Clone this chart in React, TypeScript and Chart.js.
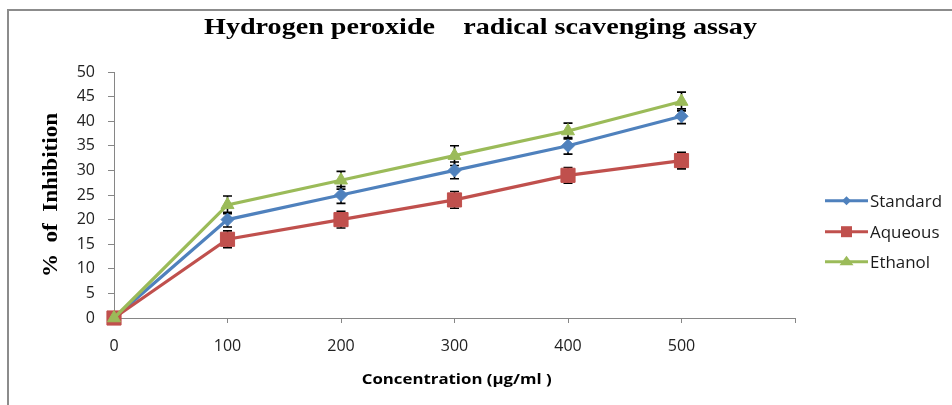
import React, { useEffect, useRef } from 'react';
import { Chart, registerables } from 'chart.js';

Chart.register(...registerables);

// ---- data ----
const concentrations = [0, 100, 200, 300, 400, 500];
const standardValues = [0, 20, 25, 30, 35, 41];
const aqueousValues = [0, 16, 20, 24, 29, 32];
const ethanolValues = [0, 23, 28, 33, 38, 44];
const standardErrors = [0, 1.5, 1.7, 1.7, 1.7, 1.5];
const aqueousErrors = [0, 1.7, 1.7, 1.7, 1.6, 1.7];
const ethanolErrors = [0, 1.8, 1.8, 2.0, 1.6, 1.9];
const xTickValues = [0, 100, 200, 300, 400, 500, 600];
const xTickLabels = ['0', '100', '200', '300', '400', '500', ''];
const seriesNames = ['Standard', 'Aqueous', 'Ethanol'];
const seriesColors = ['#4F81BD', '#C0504D', '#9BBB59'];
const chartTitle = 'Hydrogen peroxide    radical scavenging assay';
const yAxisTitle = '%  of  Inhibition';
const xAxisTitle = 'Concentration (µg/ml )';

const seriesValues = [standardValues, aqueousValues, ethanolValues];
const seriesErrors = [standardErrors, aqueousErrors, ethanolErrors];
const pointStyles = ['rectRot', 'rect', 'triangle'];
const pointRadii = [6.5, 10, 7.5];

function fitText(ctx: CanvasRenderingContext2D, text: string, x: number, y: number, width: number, font: string, align: CanvasTextAlign = 'center') {
  ctx.font = font;
  const w = ctx.measureText(text).width;
  ctx.save();
  ctx.translate(x, y);
  ctx.scale(width / w, 1);
  ctx.textAlign = align;
  ctx.textBaseline = 'alphabetic';
  ctx.fillText(text, 0, 0);
  ctx.restore();
}

const decorPlugin = {
  id: 'decor',
  beforeDraw(chart: any) {
    const ctx = chart.ctx as CanvasRenderingContext2D;
    ctx.save();
    ctx.fillStyle = '#ffffff';
    ctx.fillRect(0, 0, chart.width, chart.height);
    ctx.strokeStyle = '#8c8c8c';
    ctx.lineWidth = 2;
    ctx.beginPath();
    ctx.moveTo(8, chart.height + 2);
    ctx.lineTo(8, 10);
    ctx.lineTo(chart.width + 2, 10);
    ctx.stroke();
    ctx.restore();
  },
  beforeDatasetsDraw(chart: any) {
    const ctx = chart.ctx as CanvasRenderingContext2D;
    const xs = chart.scales.x;
    const ys = chart.scales.y;
    ctx.save();
    ctx.strokeStyle = '#000000';
    ctx.lineWidth = 1.6;
    seriesValues.forEach((vals, i) => {
      vals.forEach((v, j) => {
        const e = seriesErrors[i][j];
        if (!e) return;
        const px = xs.getPixelForValue(concentrations[j]);
        const top = ys.getPixelForValue(v + e);
        const bot = ys.getPixelForValue(v - e);
        ctx.beginPath();
        ctx.moveTo(px, top);
        ctx.lineTo(px, bot);
        ctx.moveTo(px - 4.5, top);
        ctx.lineTo(px + 4.5, top);
        ctx.moveTo(px - 4.5, bot);
        ctx.lineTo(px + 4.5, bot);
        ctx.stroke();
      });
    });
    ctx.restore();
  },
  afterDraw(chart: any) {
    const ctx = chart.ctx as CanvasRenderingContext2D;
    const area = chart.chartArea;
    ctx.save();
    ctx.fillStyle = '#000000';
    // title
    fitText(ctx, chartTitle, 480.5, 34, 553, 'bold 23px "Liberation Serif"');
    // y title
    ctx.save();
    ctx.translate(57, (area.top + area.bottom) / 2);
    ctx.rotate(-Math.PI / 2);
    fitText(ctx, yAxisTitle, 0, 0, 164, 'bold 22px "Liberation Serif"');
    ctx.restore();
    // x title
    fitText(ctx, xAxisTitle, 456.7, 384, 190, 'bold 15px "Open Sans"');
    // legend
    const rowY = [200.7, 231.7, 261.7];
    ctx.font = '16px "Open Sans"';
    const sc = 72 / ctx.measureText(seriesNames[0]).width;
    seriesNames.forEach((name, i) => {
      const y = rowY[i];
      const c = seriesColors[i];
      ctx.strokeStyle = c;
      ctx.fillStyle = c;
      ctx.lineWidth = 3;
      ctx.beginPath();
      ctx.moveTo(825, y);
      ctx.lineTo(868, y);
      ctx.stroke();
      const mx = 846.5;
      ctx.beginPath();
      if (i === 0) {
        ctx.moveTo(mx, y - 4.5);
        ctx.lineTo(mx + 4.5, y);
        ctx.lineTo(mx, y + 4.5);
        ctx.lineTo(mx - 4.5, y);
        ctx.closePath();
      } else if (i === 1) {
        ctx.rect(mx - 5.5, y - 5.5, 11, 11);
      } else {
        ctx.moveTo(mx, y - 6);
        ctx.lineTo(mx + 7, y + 3.5);
        ctx.lineTo(mx - 7, y + 3.5);
        ctx.closePath();
      }
      ctx.fill();
      ctx.fillStyle = '#1a1a1a';
      ctx.save();
      ctx.translate(870, y + 6);
      ctx.scale(sc, 1);
      ctx.textAlign = 'left';
      ctx.textBaseline = 'alphabetic';
      ctx.fillText(name, 0, 0);
      ctx.restore();
    });
    ctx.restore();
  },
};

export default function App() {
  const ref = useRef<HTMLCanvasElement | null>(null);
  useEffect(() => {
    if (!ref.current) return;
    const datasets = seriesNames.map((name, i) => ({
      label: name,
      data: concentrations.map((x, j) => ({ x, y: seriesValues[i][j] })),
      borderColor: seriesColors[i],
      backgroundColor: seriesColors[i],
      pointBackgroundColor: seriesColors[i],
      pointBorderColor: seriesColors[i],
      borderWidth: 3.2,
      pointStyle: pointStyles[i] as any,
      pointRadius: pointRadii[i],
      pointBorderWidth: 1,
      tension: 0,
      order: 2 - i,
      clip: false as any,
    }));
    const chart = new Chart(ref.current, {
      type: 'line',
      data: { datasets },
      plugins: [decorPlugin],
      options: {
        animation: false,
        responsive: false,
        devicePixelRatio: 1,
        layout: { padding: { left: 0, top: 72, right: 157, bottom: 0 } },
        plugins: { legend: { display: false }, tooltip: { enabled: false }, title: { display: false } },
        scales: {
          x: {
            type: 'linear',
            min: 0,
            max: 600,
            afterBuildTicks: (scale: any) => {
              scale.ticks = xTickValues.map((v) => ({ value: v }));
            },
            afterFit: (scale: any) => {
              scale.height = 87;
            },
            ticks: {
              autoSkip: false,
              maxRotation: 0,
              padding: 14,
              color: '#222222',
              font: { family: 'Open Sans', size: 16 },
              callback: (_v: any, i: number) => xTickLabels[i],
            },
            grid: { drawOnChartArea: false, drawTicks: true, tickLength: 5, color: '#868686', lineWidth: 1 },
            border: { display: true, color: '#868686', width: 1 },
          },
          y: {
            type: 'linear',
            min: 0,
            max: 50,
            afterFit: (scale: any) => {
              scale.width = 114;
            },
            ticks: {
              stepSize: 5,
              padding: 13,
              color: '#222222',
              font: { family: 'Open Sans', size: 16 },
            },
            grid: { drawOnChartArea: false, drawTicks: true, tickLength: 6, color: '#868686', lineWidth: 1 },
            border: { display: true, color: '#868686', width: 1 },
          },
        },
      },
    });
    return () => chart.destroy();
  }, []);
  return (
    <div style={{ position: 'absolute', left: 0, top: 0, width: 952, height: 405 }}>
      <canvas ref={ref} width={952} height={405} />
    </div>
  );
}
